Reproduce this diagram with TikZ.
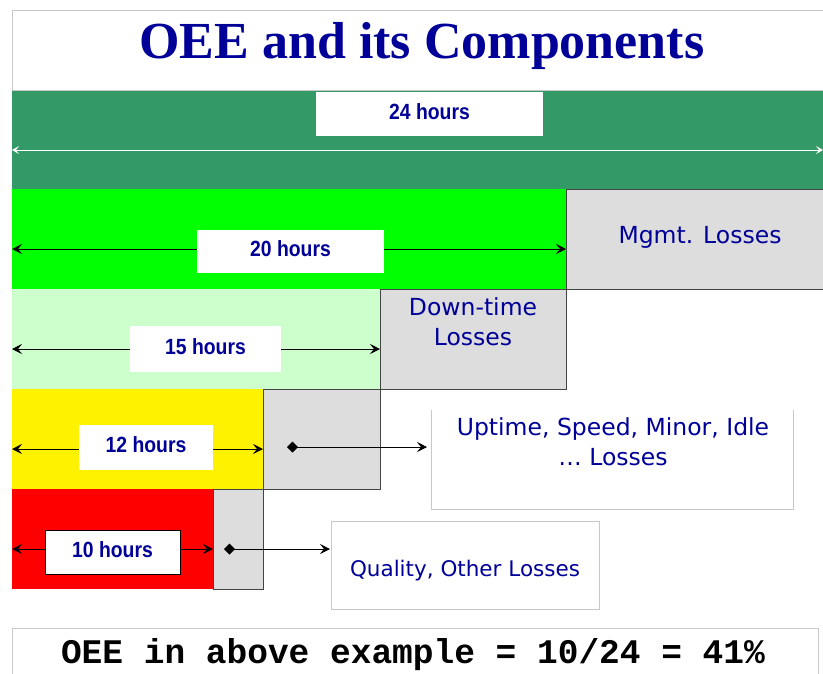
\documentclass[tikz,border=0pt]{standalone}
\usepackage{fontspec}
\setmainfont{Liberation Serif}
\newfontfamily\titlefont{Liberation Serif}
\newfontfamily\hoursfont[FakeStretch=0.88]{Liberation Sans}
\newfontfamily\lossfont{DejaVu Sans}
\newfontfamily\codefont{Liberation Mono}
\usetikzlibrary{arrows.meta,calc}
\definecolor{navy}{HTML}{000099}
\definecolor{dkgreen}{HTML}{339966}
\definecolor{brgreen}{HTML}{00FF00}
\definecolor{palegreen}{HTML}{CCFFCC}
\definecolor{lossgray}{HTML}{DDDDDD}
\definecolor{edgegray}{HTML}{444444}
\definecolor{framegray}{HTML}{C8C8C8}
\tikzset{
  band/.style={inner sep=0pt, outer sep=0pt, anchor=north west, draw=none},
  lossbox/.style={band, fill=lossgray, draw=edgegray, line width=1pt},
  hourlabel/.style={fill=white, inner sep=0pt, outer sep=0pt, text=navy,
    text height=16pt, text depth=6pt,
    font=\hoursfont\bfseries\fontsize{22}{24}\selectfont},
  losstext/.style={text=navy, align=center, inner sep=0pt,
    font=\lossfont\fontsize{23.5}{30}\selectfont},
  dim/.style={{Stealth[length=10pt,width=10pt,inset=4pt]}-{Stealth[length=10pt,width=10pt,inset=4pt]}, line width=0.9pt},
  whitedim/.style={{Stealth[length=7pt,width=8pt,inset=3pt]}-{Stealth[length=7pt,width=8pt,inset=3pt]}, draw=white, line width=0.9pt},
  pointer/.style={{Diamond[length=11pt,width=11pt]}-{Stealth[length=10pt,width=10pt,inset=4pt]}, line width=0.9pt},
}
\begin{document}
\begin{tikzpicture}[x=1pt,y=-1pt]
\useasboundingbox (0,0) rectangle (823,673);
\fill[white] (0,0) rectangle (823,673);

% title panel
\node[band, fill=white, draw=framegray, line width=1pt, minimum width=820pt, minimum height=80pt] (titlebox) at (12,10) {};
\node[text=navy, font=\titlefont\bfseries\fontsize{52}{56}\selectfont] (title) at (422,46) {OEE and its Components};

% time bands
\node[band, fill=dkgreen, minimum width=811pt, minimum height=99pt] (b24) at (12,90) {};
\draw[framegray, line width=1pt] (b24.north west) -- (b24.north east);
\node[band, fill=brgreen, minimum width=554pt, minimum height=100pt] (b20) at (12,189) {};
\node[band, fill=palegreen, minimum width=368pt, minimum height=100pt] (b15) at (12,289) {};
\node[band, fill=yellow, minimum width=251pt, minimum height=100pt] (b12) at (12,389) {};
\node[band, fill=red, minimum width=201pt, minimum height=100pt] (b10) at (12,489) {};

% loss blocks
\node[lossbox, minimum width=262pt, minimum height=100pt] (mg) at (566,189) {};
\node[lossbox, minimum width=186pt, minimum height=100pt] (dt) at (380,289) {};
\node[lossbox, minimum width=117pt, minimum height=100pt] (up) at (263,389) {};
\node[lossbox, minimum width=50pt, minimum height=100pt] (qu) at (213,489) {};

\node[losstext] (mgtext) at (700,237) {Mgmt. Losses};
\node[losstext] (dttext) at (473,322) {Down-time\\Losses};

% callout panels
\node[band, fill=white, minimum width=362pt, minimum height=99pt] (ub) at (431,410) {};
\draw[framegray, line width=1pt] (ub.north west) -- (ub.south west) -- (ub.south east) -- (ub.north east);
\node[losstext] (uptext) at (613,442) {Uptime, Speed, Minor, Idle\\\dots{} Losses};
\node[band, fill=white, draw=framegray, line width=1pt, minimum width=268pt, minimum height=88pt] (qb) at (331,521) {};
\node[losstext, font=\lossfont\fontsize{21.5}{24}\selectfont] (qtext) at (465,571) {Quality, Other Losses};

% duration arrows
\draw[whitedim] ($(b24.west)+(0,10.5)$) -- ($(b24.east)+(0,10.5)$);
\draw[dim] ($(b20.west)+(0,10)$) -- ($(b20.east)+(0,10)$);
\draw[dim] ($(b15.west)+(0,10)$) -- ($(b15.east)+(0,10)$);
\draw[dim] ($(b12.west)+(0,10)$) -- ($(b12.east)+(0,10)$);
\draw[dim] ($(b10.west)+(0,10)$) -- ($(b10.east)+(0,10)$);

\node[hourlabel, minimum width=227pt, minimum height=44pt] (h24) at (429.5,114) {24 hours};
\node[hourlabel, minimum width=187pt, minimum height=43pt] (h20) at (290.5,251.5) {20 hours};
\node[hourlabel, minimum width=151pt, minimum height=46pt] (h15) at (205.5,349) {15 hours};
\node[hourlabel, minimum width=134pt, minimum height=45pt] (h12) at (146,447.5) {12 hours};
\node[hourlabel, draw=black, line width=1pt, minimum width=135pt, minimum height=44pt] (h10) at (112.5,552) {10 hours};

% pointers to the loss descriptions
\draw[pointer] ($(up.west)+(24,8)$) -- ($(ub.west)+(-4,-12.5)$);
\draw[pointer] ($(qu.west)+(11,10)$) -- ($(qb.west)+(-1,-16)$);

% result line
\node[band, fill=white, draw=framegray, line width=1pt, minimum width=806pt, minimum height=60pt] (resbox) at (12,628) {};
\node[font=\codefont\bfseries\fontsize{34.5}{36}\selectfont] (result) at (413,655) {OEE in above example = 10/24 = 41\%};
\end{tikzpicture}
\end{document}
